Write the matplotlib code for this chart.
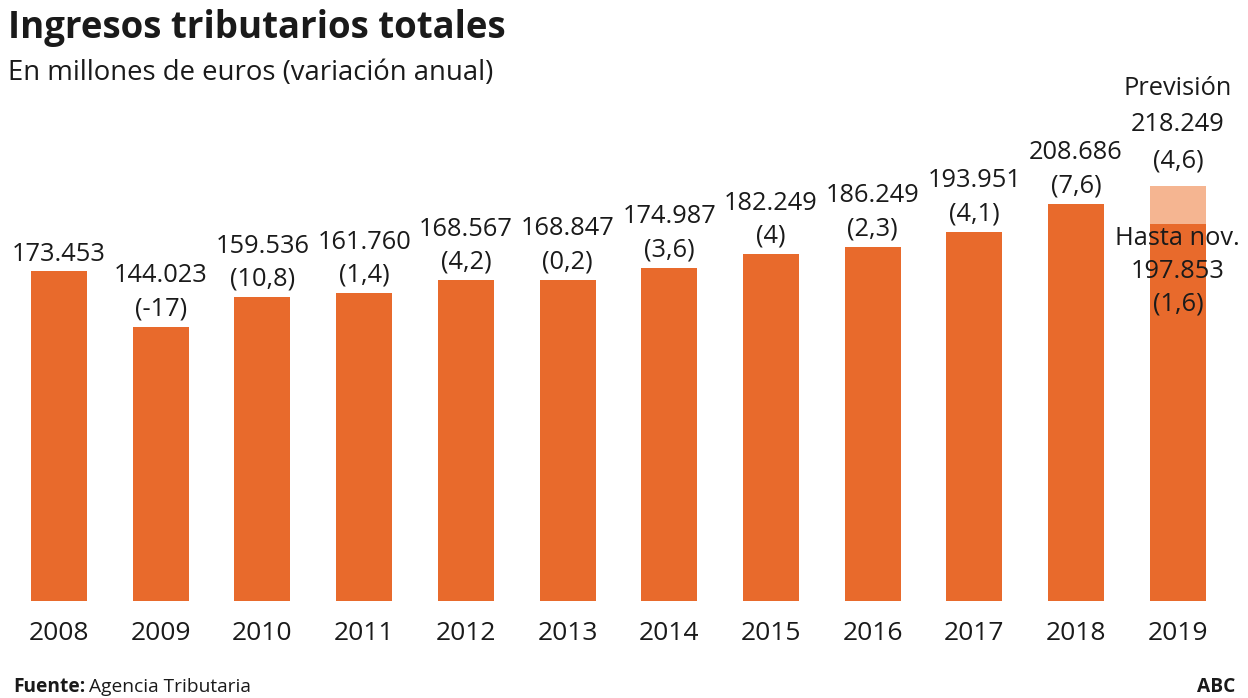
import matplotlib
matplotlib.use('Agg')
import matplotlib.pyplot as plt

# Datos (millones de euros y variación anual %)
anios = ['2008', '2009', '2010', '2011', '2012', '2013',
         '2014', '2015', '2016', '2017', '2018', '2019']
ingresos = [173453, 144023, 159536, 161760, 168567, 168847,
            174987, 182249, 186249, 193951, 208686, 197853]
etiquetas = ['173.453', '144.023', '159.536', '161.760', '168.567', '168.847',
             '174.987', '182.249', '186.249', '193.951', '208.686']
variaciones = [None, '(-17)', '(10,8)', '(1,4)', '(4,2)', '(0,2)',
               '(3,6)', '(4)', '(2,3)', '(4,1)', '(7,6)']
prevision_2019 = 218249
prevision_texto = ['Previsión', '218.249', '(4,6)']
hasta_nov_texto = ['Hasta nov.', '197.853', '(1,6)']

naranja = '#E86A2C'
naranja_claro = '#F5B591'
texto = '#1a1a1a'
plt.rcParams['font.family'] = ['Open Sans', 'DejaVu Sans']

fig = plt.figure(figsize=(12.48, 6.98), dpi=100)
ax = fig.add_axes([0, 1 - 601 / 698, 1, 601 / 698])

x = list(range(len(anios)))
ancho = 0.55
# barra de previsión 2019 (clara) detrás
ax.bar(x[-1], prevision_2019, width=ancho, color=naranja_claro, zorder=1)
ax.bar(x, ingresos, width=ancho, color=naranja, zorder=2)

ax.set_xlim(-0.58, 11.69)
ax.set_ylim(0, 315800)
ax.axis('off')

# Etiquetas de valor y variación
fs = 18.3
for i in range(len(etiquetas)):
    if variaciones[i] is None:
        ax.annotate(etiquetas[i], (x[i], ingresos[i]), xytext=(0, 16),
                    textcoords='offset pixels', ha='center', va='center',
                    fontsize=fs, color=texto)
    else:
        ax.annotate(variaciones[i], (x[i], ingresos[i]), xytext=(0, 18),
                    textcoords='offset pixels', ha='center', va='center',
                    fontsize=fs, color=texto)
        ax.annotate(etiquetas[i], (x[i], ingresos[i]), xytext=(0, 51),
                    textcoords='offset pixels', ha='center', va='center',
                    fontsize=fs, color=texto)

# Etiquetas 2019
for k, txt in enumerate(prevision_texto):
    ax.annotate(txt, (x[-1], prevision_2019), xytext=(0, 25 + 36 * (2 - k)),
                textcoords='offset pixels', ha='center', va='center',
                fontsize=fs, color=texto)
for k, txt in enumerate(hasta_nov_texto):
    ax.annotate(txt, (x[-1], ingresos[-1]), xytext=(0, -14 - 33 * k),
                textcoords='offset pixels', ha='center', va='center',
                fontsize=fs, color=texto, zorder=3)

# Años
for i, a in enumerate(anios):
    ax.annotate(a, (x[i], 0), xytext=(0, -33), textcoords='offset pixels',
                ha='center', va='center', fontsize=19, color=texto)

# Títulos
fig.text(8 / 1248, 1 - 28 / 698, 'Ingresos tributarios totales',
         fontsize=26.4, fontweight='bold', color=texto, va='center')
fig.text(8 / 1248, 1 - 73 / 698, 'En millones de euros (variación anual)',
         fontsize=19.8, color=texto, va='center')

# Fuente
fuente = fig.text(13 / 1248, 1 - 687 / 698, 'Fuente:', fontsize=13.8,
                  fontweight='bold', color=texto, va='center')
fig.canvas.draw()
bb = fuente.get_window_extent()
fig.text((bb.x1 + 4) / 1248, 1 - 687 / 698, 'Agencia Tributaria',
         fontsize=13.8, color=texto, va='center')
fig.text(1235 / 1248, 1 - 687 / 698, 'ABC', fontsize=13.8, fontweight='bold',
         color=texto, va='center', ha='right')

plt.savefig('out.png', dpi=100)
plt.close()
